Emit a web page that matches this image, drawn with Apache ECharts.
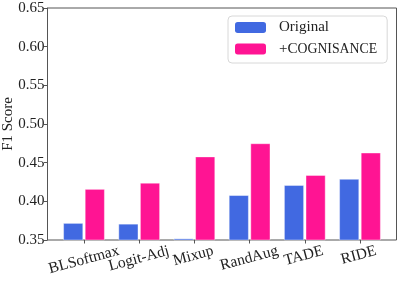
<!DOCTYPE html>
<html><head><meta charset="utf-8">
<script src="https://cdn.jsdelivr.net/npm/echarts@6/dist/echarts.min.js"></script>
<style>html,body{margin:0;padding:0;background:#fff}#c{width:399px;height:281px}</style>
</head><body><div id="c"></div>
<script>
var categories = ['BLSoftmax', 'Logit-Adj', 'Mixup', 'RandAug', 'TADE', 'RIDE'];
var original = [0.372, 0.371, 0.352, 0.408, 0.421, 0.429];
var cognisance = [0.416, 0.424, 0.458, 0.475, 0.434, 0.463];
var yTicks = [0.35, 0.40, 0.45, 0.50, 0.55, 0.60, 0.65];
var seriesNames = ['Original', '+Cognisance'];

var FONT = 'Liberation Serif';
var XFS = 15.5;
var ROT = 15;
// matplotlib aligns the top of each rotated label box; emulate by padding shorter labels
var ctx = document.createElement('canvas').getContext('2d');
ctx.font = XFS + 'px "' + FONT + '"';
var widths = categories.map(function (c) { return ctx.measureText(c).width; });
var maxW = Math.max.apply(null, widths);
var tanR = Math.tan(ROT * Math.PI / 180);
var richX = {};
categories.forEach(function (c, i) {
  richX['p' + i] = {fontFamily: FONT, fontSize: XFS, color: '#222',
    padding: [0, 0, (maxW - widths[i]) * tanR, 0]};
});

var chart = echarts.init(document.getElementById('c'), null, {renderer: 'canvas'});
chart.setOption({
  animation: false,
  grid: [
    {left: 47.5, right: 2.5, top: 8, bottom: 41, show: true, borderColor: '#555', borderWidth: 1,
      backgroundColor: 'transparent', containLabel: false, outerBoundsMode: 'none'},
    {left: 56.4, right: 11.4, top: 8, bottom: 41, containLabel: false, outerBoundsMode: 'none'}
  ],
  xAxis: [
    {gridIndex: 0, type: 'value', show: false, min: 0, max: 1},
    {gridIndex: 1, type: 'category', data: categories,
      axisLine: {show: false},
      axisTick: {show: true, alignWithLabel: true, length: 3.5, lineStyle: {color: '#555'}},
      axisLabel: {rotate: ROT, align: 'center', verticalAlign: 'middle', margin: 20, interval: 0,
        fontFamily: FONT, fontSize: XFS, color: '#222',
        formatter: function (v, i) { return '{p' + i + '|' + v + '}'; }, rich: richX}}
  ],
  yAxis: [
    {gridIndex: 0, type: 'value', min: yTicks[0], max: yTicks[yTicks.length - 1], interval: 0.05,
      name: 'F1 Score', nameLocation: 'middle', nameGap: 32, nameRotate: 90, nameMoveOverlap: false,
      nameTextStyle: {fontFamily: FONT, fontSize: 15, color: '#222'},
      axisLine: {show: true, lineStyle: {color: '#555'}},
      axisTick: {show: true, length: 3.5, lineStyle: {color: '#555'}},
      splitLine: {show: false},
      axisLabel: {formatter: function (v) { return v.toFixed(2); }, margin: 3,
        fontFamily: FONT, fontSize: 15, color: '#222'}},
    {gridIndex: 1, type: 'value', show: false, min: yTicks[0], max: yTicks[yTicks.length - 1], splitLine: {show: false}}
  ],
  legend: {
    left: 228, top: 16, orient: 'vertical',
    data: seriesNames,
    itemWidth: 31, itemHeight: 11, itemGap: 6.5,
    padding: [4, 10, 6.5, 7],
    backgroundColor: 'rgba(255,255,255,0.8)', borderColor: '#d8d8d8', borderWidth: 1, borderRadius: 4,
    formatter: function (n) { return n === '+Cognisance' ? '{a|+C}{b|OGNISANCE}' : '{a|' + n + '}'; },
    textStyle: {padding: [0, 0, 0, 8], rich: {
      a: {fontFamily: FONT, fontSize: 15, color: '#222', lineHeight: 16},
      b: {fontFamily: FONT, fontSize: 13.8, color: '#222', lineHeight: 16}
    }},
    itemStyle: {borderWidth: 0}
  },
  series: [
    {name: seriesNames[0], type: 'bar', xAxisIndex: 1, yAxisIndex: 1, data: original,
      barWidth: 20, barGap: '8%', itemStyle: {color: '#4169E1', borderColor: 'rgba(255,255,255,0.5)', borderWidth: 0.8}},
    {name: seriesNames[1], type: 'bar', xAxisIndex: 1, yAxisIndex: 1, data: cognisance,
      barWidth: 20, itemStyle: {color: '#FF1493', borderColor: 'rgba(255,255,255,0.5)', borderWidth: 0.8}}
  ]
});
</script></body></html>
